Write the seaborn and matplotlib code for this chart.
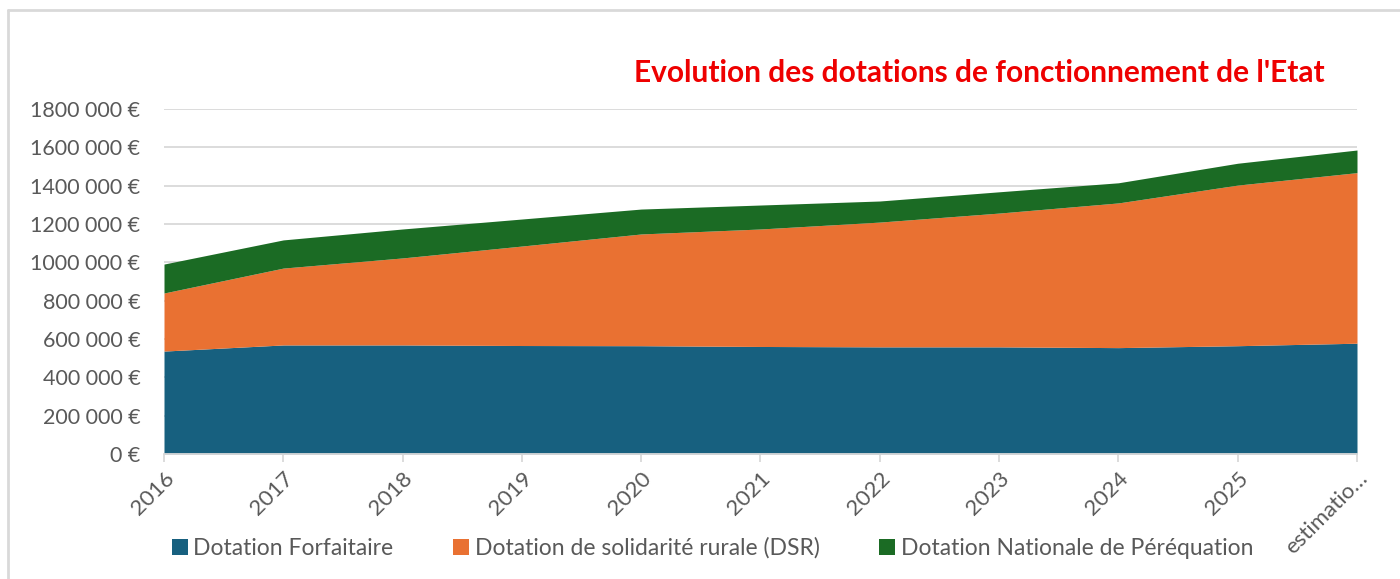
import pandas as pd
import seaborn as sns
import matplotlib.pyplot as plt
from matplotlib.ticker import FuncFormatter
from matplotlib.lines import Line2D

# Data (euros)
annees = ['2016', '2017', '2018', '2019', '2020', '2021', '2022', '2023', '2024', '2025', 'estimatio…']
forfaitaire = [537000, 569000, 569000, 566000, 565000, 561000, 559000, 559000, 555000, 565000, 578000]
dsr = [303000, 401000, 454000, 519000, 583000, 613000, 651000, 698000, 755000, 838000, 890000]
perequation = [151000, 147000, 151000, 141000, 130000, 125000, 110000, 111000, 105000, 114000, 118000]

series = ['Dotation Forfaitaire', 'Dotation de solidarité rurale (DSR)', 'Dotation Nationale de Péréquation']
colors = ['#17607f', '#e97132', '#1b6b24']

df = pd.DataFrame({
    'Annee': annees,
    series[0]: forfaitaire,
    series[1]: dsr,
    series[2]: perequation,
})

sns.set_theme(style='white')
plt.rcParams['font.family'] = ['Lato', 'DejaVu Sans']

fig = plt.figure(figsize=(14, 5.79), dpi=100)
ax = fig.add_axes([164 / 1400, 1 - 454 / 579, (1357 - 164) / 1400, (454 - 109) / 579])

x = list(range(len(df)))
ax.stackplot(x, df[series[0]], df[series[1]], df[series[2]],
             colors=colors, labels=series, linewidth=0, zorder=2)

ax.set_xlim(0, len(df) - 1)
ax.set_ylim(0, 1800000)
ax.set_yticks(range(0, 1800001, 200000))
ax.yaxis.set_major_formatter(FuncFormatter(
    lambda v, p: '0 €' if v == 0 else f'{int(v // 1000)} 000 €'))
ax.set_xticks(x)
ax.set_xticklabels(df['Annee'], rotation=45, ha='right', rotation_mode='anchor')

ax.grid(axis='y', color='#d9d9d9', linewidth=1.3, zorder=0)
for s in ['top', 'right', 'left']:
    ax.spines[s].set_visible(False)
ax.spines['bottom'].set_color('#d9d9d9')
ax.spines['bottom'].set_linewidth(1.3)
ax.tick_params(axis='x', colors='#595959', labelsize=16, length=6, width=1.3,
               color='#d9d9d9', direction='out', pad=4, bottom=True)
ax.tick_params(axis='y', colors='#595959', labelsize=15.5, length=0, pad=17)
for lab in ax.get_xticklabels():
    lab.set_color('#595959')

fig.text(1325 / 1400, 1 - 73 / 579, "Evolution des dotations de fonctionnement de l'Etat",
         color='#ee0000', fontsize=21.5, fontweight='bold', ha='right', va='center')

fig.legend(loc='center', bbox_to_anchor=(0.509, 1 - 548 / 579), ncol=3, frameon=False,
           fontsize=16.5, labelcolor='#595959', handlelength=0.7, handleheight=0.7,
           handletextpad=0.25, columnspacing=2.6)

# light frame around the chart area
fig.add_artist(Line2D([8 / 1400, 1], [1 - 10 / 579, 1 - 10 / 579], color='#d9d9d9', linewidth=2,
                      transform=fig.transFigure))
fig.add_artist(Line2D([8 / 1400, 8 / 1400], [0, 1 - 10 / 579], color='#d9d9d9', linewidth=2,
                      transform=fig.transFigure))

fig.savefig('out.png', dpi=100)
